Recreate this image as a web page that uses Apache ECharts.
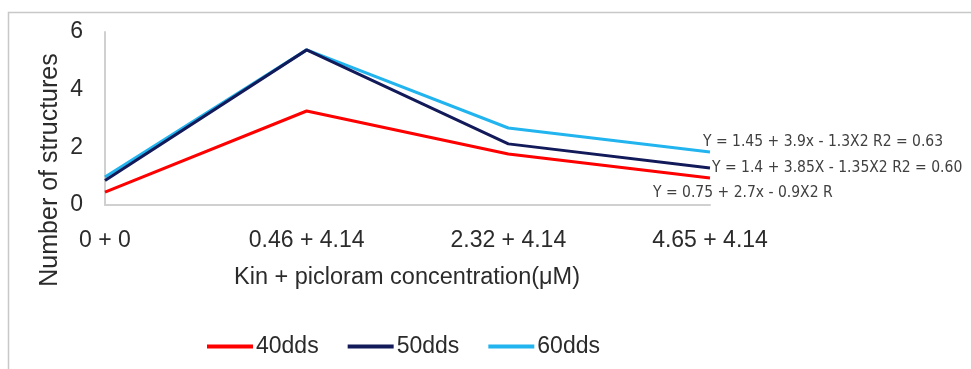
<!DOCTYPE html>
<html><head><meta charset="utf-8">
<script src="https://cdn.jsdelivr.net/npm/echarts@6/dist/echarts.min.js"></script>
<style>html,body{margin:0;padding:0;background:#fff}#c{width:971px;height:369px}</style>
</head><body><div id="c"></div>
<script>
const categories = ['0 + 0', '0.46 + 4.14', '2.32 + 4.14', '4.65 + 4.14'];
const s40 = [0.45, 3.26, 1.77, 0.94];
const s50 = [0.85, 5.38, 2.12, 1.28];
const s60 = [0.97, 5.38, 2.67, 1.84];
const seriesNames = ['40dds', '50dds', '60dds'];
const equations = ['Y = 0.75 + 2.7x - 0.9X2 R', 'Y = 1.4 + 3.85X - 1.35X2 R2 = 0.60', 'Y = 1.45 + 3.9x - 1.3X2 R2 = 0.63'];
const yTicks = [0, 2, 4, 6];

const colors = ['#ff0000', '#131a5a', '#22b4ee'];
const offsets = [[-57, 15], [2, 0], [-7, -10]];
const data = [s40, s50, s60];
const chart = echarts.init(document.getElementById('c'));
chart.setOption({
  animation: false,
  grid: {left: 105, right: 261, top: 32, bottom: 164},
  graphic: [
    {type: 'rect', shape: {x: 8.5, y: 12.5, width: 1000, height: 400}, style: {fill: 'none', stroke: '#c8c8c8', lineWidth: 1.5}},
    {type: 'text', x: 50, y: 170, rotation: Math.PI / 2, style: {text: 'Number of structures', font: '25px "Liberation Sans", Arial', fill: '#2b2b2b', align: 'center', verticalAlign: 'middle'}},
    {type: 'text', x: 407, y: 278, style: {text: 'Kin + picloram concentration(μM)', font: '23.5px "Liberation Sans", Arial', fill: '#2b2b2b', align: 'center', verticalAlign: 'middle'}}
  ],
  legend: {
    top: 330, left: 202,
    itemWidth: 46, itemHeight: 4, itemGap: 29,
    icon: 'rect',
    textStyle: {fontSize: 23, color: '#2b2b2b', fontFamily: 'Liberation Sans', padding: [0, 0, 0, -2]},
    data: seriesNames
  },
  xAxis: {
    type: 'category', data: categories, boundaryGap: false,
    axisLine: {lineStyle: {color: '#d0d0d0', width: 2}},
    axisTick: {show: false},
    axisLabel: {fontSize: 23, color: '#2b2b2b', fontFamily: 'Liberation Sans', margin: 24}
  },
  yAxis: {
    type: 'value', min: 0, max: 6, interval: 2,
    axisLine: {show: true, lineStyle: {color: '#d0d0d0', width: 2}},
    axisTick: {show: false}, splitLine: {show: false},
    axisLabel: {fontSize: 23, color: '#2b2b2b', fontFamily: 'Liberation Sans', margin: 22,
      formatter: v => yTicks.includes(v) ? String(v) : ''}
  },
  series: data.map((d, i) => ({
    name: seriesNames[i], type: 'line', data: d, symbol: 'none',
    z: i === 1 ? 3 : 2,
    lineStyle: {color: colors[i], width: 3},
    itemStyle: {color: colors[i]},
    endLabel: {show: true, formatter: equations[i], offset: offsets[i], distance: 0,
      fontFamily: '"Liberation Sans Narrow", "DejaVu Sans Condensed", sans-serif', fontSize: 15.5, color: '#404040'}
  }))
});
</script></body></html>
